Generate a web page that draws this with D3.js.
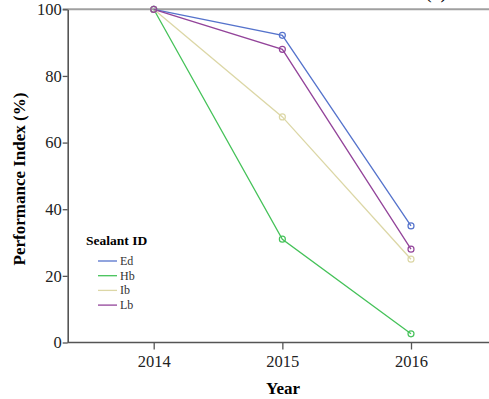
<!DOCTYPE html>
<html>
<head>
<meta charset="utf-8">
<script src="https://cdn.jsdelivr.net/npm/d3@7"></script>
<style>
  body { margin: 0; background: #fff; }
  svg text { font-family: "Liberation Serif", "Times New Roman", serif !important; }
</style>
</head>
<body>
<script>
// Performance index of sealants by year

const w = 489;
const h = 399;

const years = [2014, 2015, 2016];
const sealants = ["Ed", "Hb", "Ib", "Lb"];
const ed = [100, 92.2, 35.0];
const hb = [100, 31.0, 2.6];
const ib = [100, 67.7, 25.0];
const lb = [100, 88.0, 28.0];
const yTicks = [0, 20, 40, 60, 80, 100];

const colors = ["#5573cc", "#45c259", "#dcd7a6", "#93449a"];

const series = [ed, hb, ib, lb].map((vals, i) => ({
  name: sealants[i],
  color: colors[i],
  points: vals.map((v, j) => ({ year: years[j], value: v }))
}));

const svg = d3.select("body")
  .append("svg")
  .attr("width", w)
  .attr("height", h);

const x_scale = d3.scaleLinear()
  .domain([2014, 2016])
  .range([153.7, 411]);

const y_scale = d3.scaleLinear()
  .domain([0, 100])
  .range([342.5, 9.3]);

const left = 67.7;

// top frame line
svg.append("line")
  .attr("x1", left - 5).attr("x2", w)
  .attr("y1", y_scale(100)).attr("y2", y_scale(100))
  .attr("stroke", "#a0a0a0")
  .attr("stroke-width", 2);

// y axis
const yAxis = svg.append("g")
  .attr("transform", `translate(${left},0)`)
  .attr("font-family", "Liberation Serif")
  .call(d3.axisLeft(y_scale).tickValues(yTicks).tickSize(5).tickSizeOuter(0));

yAxis.attr("font-family", "Liberation Serif");
yAxis.select(".domain").attr("stroke", "#555").attr("stroke-width", 1.6);
yAxis.selectAll(".tick line").attr("stroke", "#555").attr("stroke-width", 1.3);
yAxis.selectAll(".tick text")
  .attr("font-size", "16.5px")
  .attr("fill", "#222")
  .attr("x", -6);

// x axis
const xAxis = svg.append("g")
  .attr("transform", `translate(0,${y_scale(0)})`)
  .call(d3.axisBottom(x_scale).tickValues(years).tickFormat(d3.format("d")).tickSize(7).tickSizeOuter(0));

xAxis.attr("font-family", "Liberation Serif");
xAxis.select(".domain").remove();
xAxis.append("line")
  .attr("x1", left).attr("x2", w)
  .attr("y1", 0).attr("y2", 0)
  .attr("stroke", "#555")
  .attr("stroke-width", 1.6);
xAxis.selectAll(".tick line").attr("stroke", "#555").attr("stroke-width", 1.3);
xAxis.selectAll(".tick text")
  .attr("font-size", "16.5px")
  .attr("fill", "#222")
  .attr("y", 13);

// lines
const line = d3.line()
  .x(d => x_scale(d.year))
  .y(d => y_scale(d.value));

const g = svg.append("g");

g.selectAll(".series")
  .data(series)
  .enter()
  .append("path")
  .attr("class", "series")
  .attr("d", d => line(d.points))
  .attr("fill", "none")
  .attr("stroke", d => d.color)
  .attr("stroke-width", 1.3);

series.forEach(s => {
  g.selectAll(null)
    .data(s.points)
    .enter()
    .append("circle")
    .attr("cx", d => x_scale(d.year))
    .attr("cy", d => y_scale(d.value))
    .attr("r", 3)
    .attr("fill", "none")
    .attr("stroke", s.color)
    .attr("stroke-width", 1.2);
});

// axis titles
svg.append("text")
  .attr("x", 283)
  .attr("y", 394)
  .attr("text-anchor", "middle")
  .attr("font-size", "17px")
  .attr("font-weight", "bold")
  .text("Year");

svg.append("text")
  .attr("transform", "rotate(-90)")
  .attr("x", -179)
  .attr("y", 25)
  .attr("text-anchor", "middle")
  .attr("font-size", "17px")
  .attr("font-weight", "bold")
  .text("Performance Index (%)");

// panel label, cut by the top edge as in the source
svg.append("text")
  .attr("x", 436)
  .attr("y", -2)
  .attr("text-anchor", "middle")
  .attr("font-size", "20px")
  .text("(a)");

// legend
const legend = svg.append("g")
  .attr("class", "legend")
  .attr("transform", "translate(86,245)");

legend.append("text")
  .attr("x", 0)
  .attr("y", 0)
  .attr("font-size", "13.5px")
  .attr("font-weight", "bold")
  .text("Sealant ID");

const legendItem = legend.selectAll(".legend-item")
  .data(series)
  .enter()
  .append("g")
  .attr("class", "legend-item")
  .attr("transform", (d, i) => `translate(0, ${16 + i * 14.7})`);

legendItem.append("line")
  .attr("x1", 12).attr("x2", 31)
  .attr("y1", 0).attr("y2", 0)
  .attr("stroke", d => d.color)
  .attr("stroke-width", 1.3);

legendItem.append("text")
  .attr("x", 34)
  .attr("y", 4)
  .attr("font-size", "12px")
  .attr("fill", "#333")
  .text(d => d.name);
</script>
</body>
</html>
